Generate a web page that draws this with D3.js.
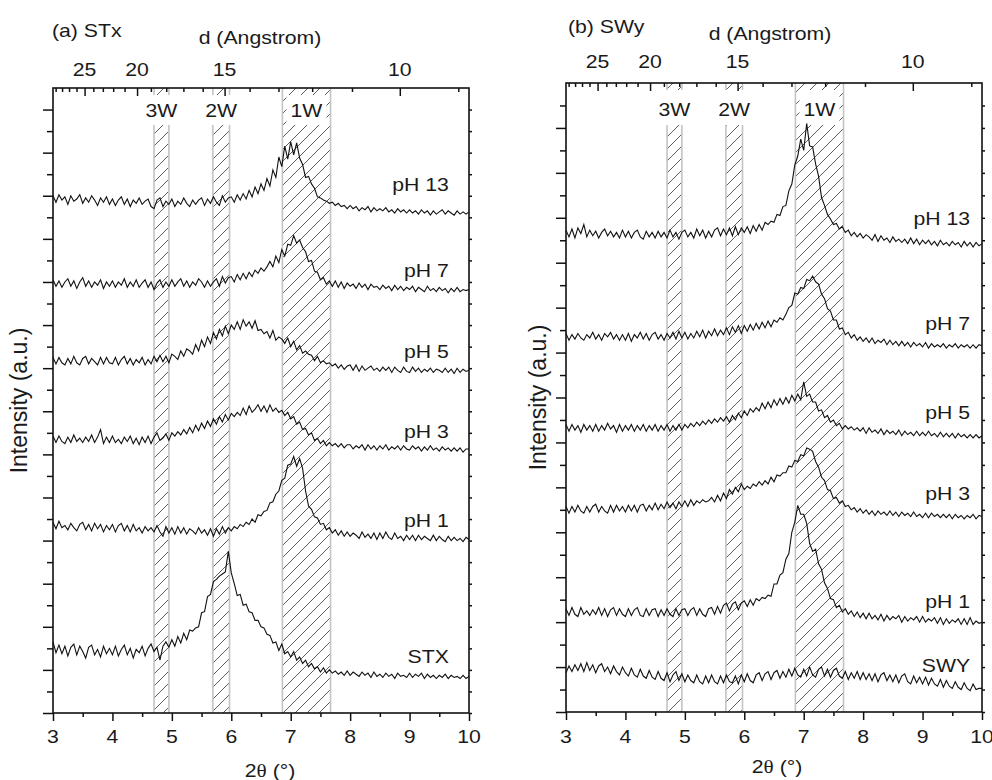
<!DOCTYPE html>
<html>
<head>
<meta charset="utf-8">
<script src="https://cdn.jsdelivr.net/npm/d3@7"></script>
<style>
  body { margin: 0; background: #fff; }
  text { font-family: "Liberation Sans", Arial, sans-serif; fill: #1a1a1a; }
</style>
</head>
<body>
<svg id="chart" width="992" height="780"></svg>
<script>
// scan grid, degrees 2theta
var angleStart = 3, angleStep = 0.05

// bottom / top axis ticks
var xTicks = [3, 4, 5, 6, 7, 8, 9, 10]
var xMinor = [3.5, 4.5, 5.5, 6.5, 7.5, 8.5, 9.5]
var dTicks = [25, 20, 15, 10]
var dMinor = [29, 28, 27, 26, 24, 23, 22, 21, 19, 18, 17, 16, 14, 13, 12, 11, 9]

// hydration state bands (2theta)
var bandNames = ["3W", "2W", "1W"]
var bandFrom = [4.70, 5.69, 6.86]
var bandTo = [4.95, 5.97, 7.67]

// (a) STx scans, intensity a.u. (stacked)
var stxNames = ["pH 13", "pH 7", "pH 5", "pH 3", "pH 1", "STX"]
var stxLabelLevels = [484, 405, 329, 255, 173, 46]

var stxPh13 = [
  480, 474, 481, 476, 479, 472, 480, 475, 477, 481, 473, 478, 474, 480, 476, 471, 478, 474, 479, 472,
  477, 471, 476, 479, 472, 477, 470, 476, 473, 478, 472, 475, 477, 470, 468, 476, 478, 470, 475, 472,
  477, 470, 475, 472, 478, 473, 470, 476, 472, 476, 478, 471, 477, 473, 479, 474, 471, 480, 474, 478,
  479, 474, 481, 476, 482, 477, 485, 479, 488, 482, 491, 485, 496, 489, 504, 497, 516, 507, 526, 514,
  530, 518, 529, 515, 509, 497, 498, 491, 487, 479, 478, 476, 475, 473, 474, 471, 473, 470, 471, 468,
  471, 468, 470, 466, 469, 467, 470, 465, 469, 466, 468, 466, 469, 465, 467, 464, 468, 465, 467, 464,
  467, 464, 466, 463, 467, 464, 466, 462, 466, 463, 465, 467, 463, 466, 464, 462, 466, 463, 465, 463,
  465]
var stxPh7 = [
  402, 396, 401, 395, 400, 403, 396, 401, 394, 400, 404, 396, 401, 395, 400, 397, 402, 394, 400, 396,
  401, 395, 400, 397, 403, 395, 400, 396, 402, 395, 399, 402, 395, 400, 393, 399, 402, 395, 400, 396,
  402, 396, 400, 403, 396, 401, 395, 400, 397, 403, 400, 395, 401, 396, 400, 403, 396, 405, 399, 404,
  405, 400, 407, 402, 408, 403, 409, 405, 411, 408, 413, 410, 414, 419, 414, 424, 418, 430, 424, 435,
  434, 443, 436, 439, 432, 428, 419, 420, 410, 409, 402, 404, 398, 401, 396, 401, 395, 400, 394, 399,
  396, 398, 394, 399, 395, 398, 393, 398, 395, 396, 393, 397, 394, 396, 392, 397, 393, 396, 392, 395,
  393, 396, 391, 395, 393, 391, 396, 392, 394, 391, 395, 392, 394, 390, 394, 391, 395, 391, 393, 392,
  393]
var stxPh5 = [
  330, 324, 330, 325, 323, 329, 324, 331, 325, 323, 329, 331, 324, 329, 326, 323, 330, 324, 330, 325,
  324, 330, 323, 328, 331, 324, 329, 323, 328, 325, 330, 323, 328, 324, 331, 326, 332, 326, 331, 325,
  333, 331, 328, 336, 331, 338, 336, 333, 342, 336, 346, 340, 349, 343, 353, 347, 356, 350, 359, 352,
  360, 356, 363, 356, 365, 359, 363, 357, 364, 355, 356, 352, 354, 348, 355, 346, 349, 347, 343, 348,
  340, 345, 337, 341, 334, 336, 333, 332, 327, 331, 325, 327, 324, 325, 322, 324, 320, 323, 319, 322,
  323, 318, 323, 317, 322, 318, 320, 322, 318, 320, 317, 321, 318, 321, 316, 321, 318, 316, 321, 317,
  316, 321, 317, 320, 316, 319, 317, 320, 316, 319, 318, 316, 320, 316, 319, 315, 320, 316, 319, 317,
  318]
var stxPh3 = [
  257, 251, 257, 252, 250, 256, 251, 258, 252, 255, 251, 256, 252, 258, 251, 256, 263, 250, 256, 251,
  257, 251, 254, 250, 256, 252, 257, 250, 255, 249, 256, 251, 257, 250, 256, 260, 253, 255, 259, 253,
  260, 257, 261, 258, 263, 259, 265, 260, 267, 262, 269, 264, 271, 266, 273, 268, 275, 270, 277, 272,
  278, 275, 279, 276, 283, 277, 285, 279, 282, 286, 280, 285, 279, 286, 280, 283, 279, 281, 276, 279,
  273, 275, 268, 270, 263, 264, 258, 260, 253, 255, 250, 253, 248, 251, 248, 250, 247, 250, 246, 249,
  249, 245, 248, 246, 249, 244, 249, 245, 248, 244, 248, 245, 249, 244, 247, 245, 248, 244, 248, 245,
  244, 248, 245, 247, 243, 247, 244, 248, 244, 246, 243, 247, 244, 246, 243, 246, 243, 246, 242, 245,
  245]
var stxPh1 = [
  177, 171, 178, 172, 174, 170, 176, 172, 169, 175, 177, 170, 175, 169, 176, 171, 175, 168, 174, 170,
  175, 168, 174, 176, 169, 174, 168, 175, 169, 172, 167, 173, 169, 172, 168, 174, 168, 164, 173, 167,
  172, 166, 173, 167, 172, 166, 171, 169, 166, 172, 167, 170, 165, 171, 164, 171, 166, 173, 167, 172,
  169, 173, 171, 175, 173, 177, 175, 180, 177, 184, 183, 187, 188, 195, 196, 203, 206, 216, 218, 230,
  231, 238, 229, 236, 227, 206, 192, 189, 182, 181, 175, 176, 170, 172, 167, 170, 165, 169, 164, 168,
  164, 167, 165, 162, 168, 163, 166, 162, 167, 161, 167, 162, 168, 163, 161, 167, 162, 164, 160, 165,
  161, 165, 160, 165, 161, 164, 162, 160, 165, 160, 164, 161, 159, 164, 160, 163, 160, 162, 159, 163,
  161]
var stxRaw = [
  66, 56, 63, 55, 62, 53, 61, 64, 54, 62, 57, 51, 61, 63, 54, 59, 52, 62, 55, 60,
  54, 62, 53, 59, 63, 54, 60, 51, 59, 56, 62, 53, 60, 64, 57, 61, 49, 62, 66, 61,
  68, 62, 71, 65, 74, 68, 77, 76, 79, 80, 93, 94, 108, 110, 122, 124, 127, 129, 131, 150,
  130, 120, 109, 110, 100, 101, 94, 93, 86, 86, 80, 79, 73, 72, 65, 66, 58, 64, 55, 57,
  52, 57, 49, 52, 46, 49, 43, 46, 41, 43, 38, 42, 37, 40, 37, 39, 36, 38, 35, 39,
  35, 38, 36, 34, 38, 35, 37, 33, 38, 34, 36, 33, 37, 34, 36, 32, 37, 34, 35, 33,
  37, 33, 36, 34, 37, 32, 36, 33, 35, 32, 35, 33, 36, 32, 35, 33, 34, 32, 35, 32,
  34]

// (b) SWy scans
var swyNames = ["pH 13", "pH 7", "pH 5", "pH 3", "pH 1", "SWY"]
var swyLabelLevels = [434, 340, 261, 189, 93, 36]

var swyPh13 = [
  429, 423, 430, 422, 431, 426, 434, 423, 429, 424, 428, 422, 427, 430, 424, 428, 423, 427, 422, 429,
  423, 428, 422, 427, 429, 423, 421, 428, 423, 427, 422, 428, 423, 427, 422, 429, 423, 427, 421, 427,
  429, 423, 427, 422, 430, 424, 429, 422, 428, 423, 429, 431, 424, 430, 425, 431, 424, 432, 425, 431,
  427, 432, 426, 433, 428, 434, 429, 436, 434, 437, 436, 443, 442, 450, 451, 464, 470, 487, 495, 510,
  500, 524, 504, 503, 488, 477, 458, 451, 443, 439, 434, 435, 430, 432, 427, 429, 424, 427, 423, 426,
  422, 425, 423, 420, 425, 419, 424, 420, 422, 418, 423, 419, 421, 418, 421, 417, 422, 417, 421, 416,
  420, 417, 420, 416, 419, 415, 420, 416, 418, 415, 419, 416, 418, 414, 419, 415, 418, 414, 418, 415,
  417]
var swyPh7 = [
  337, 331, 336, 332, 337, 333, 331, 336, 333, 338, 332, 336, 331, 337, 334, 338, 332, 336, 331, 336,
  331, 337, 330, 336, 333, 338, 332, 337, 331, 336, 338, 332, 336, 331, 337, 333, 338, 332, 339, 333,
  338, 332, 337, 333, 339, 334, 340, 333, 339, 335, 341, 335, 340, 336, 342, 336, 343, 338, 344, 337,
  344, 339, 345, 340, 346, 341, 347, 342, 348, 343, 349, 347, 351, 349, 354, 360, 362, 373, 372, 378,
  377, 385, 384, 388, 383, 381, 372, 368, 359, 357, 349, 349, 341, 342, 336, 338, 333, 336, 331, 334,
  330, 333, 329, 333, 328, 331, 329, 332, 327, 331, 327, 330, 326, 330, 326, 329, 325, 329, 326, 328,
  325, 329, 324, 328, 325, 327, 325, 328, 324, 327, 325, 328, 324, 327, 325, 327, 324, 327, 324, 327,
  326]
var swyPh5 = [
  256, 250, 256, 251, 255, 249, 256, 251, 255, 250, 256, 250, 255, 251, 257, 252, 255, 249, 256, 250,
  255, 251, 256, 250, 255, 251, 256, 250, 255, 251, 256, 250, 255, 251, 256, 250, 255, 251, 256, 251,
  256, 253, 257, 254, 258, 255, 259, 256, 260, 257, 261, 258, 262, 259, 263, 258, 264, 260, 266, 262,
  268, 264, 270, 267, 271, 268, 275, 270, 276, 271, 278, 273, 279, 274, 280, 275, 282, 277, 283, 278,
  294, 281, 283, 276, 276, 268, 269, 262, 264, 258, 260, 255, 257, 252, 255, 252, 254, 251, 253, 250,
  253, 248, 253, 249, 251, 248, 252, 247, 251, 248, 250, 247, 251, 246, 250, 247, 249, 246, 250, 246,
  249, 246, 250, 246, 248, 245, 249, 245, 248, 245, 248, 244, 248, 245, 247, 244, 247, 244, 247, 244,
  246]
var swyPh3 = [
  183, 177, 183, 178, 184, 179, 177, 183, 178, 183, 185, 178, 183, 179, 177, 184, 178, 184, 179, 183,
  178, 184, 179, 184, 178, 184, 185, 179, 184, 180, 186, 180, 185, 181, 187, 182, 186, 181, 187, 183,
  188, 183, 189, 184, 188, 186, 189, 187, 188, 191, 187, 193, 188, 195, 190, 198, 194, 200, 196, 203,
  198, 201, 199, 203, 201, 205, 202, 206, 203, 209, 205, 211, 210, 213, 213, 219, 218, 224, 223, 229,
  228, 235, 234, 232, 223, 218, 209, 206, 198, 197, 190, 191, 186, 188, 183, 184, 180, 182, 178, 181,
  177, 180, 176, 179, 175, 179, 176, 178, 175, 179, 175, 178, 174, 178, 175, 177, 174, 178, 174, 176,
  173, 177, 173, 177, 174, 176, 173, 176, 173, 176, 172, 176, 173, 175, 172, 175, 173, 176, 172, 175,
  174]
var swyPh1 = [
  92, 86, 93, 87, 85, 93, 87, 90, 86, 91, 87, 93, 86, 92, 85, 91, 93, 86, 92, 87,
  85, 92, 86, 91, 93, 86, 85, 92, 86, 91, 92, 85, 91, 86, 92, 87, 85, 92, 86, 91,
  92, 86, 91, 93, 86, 92, 87, 85, 92, 93, 87, 94, 88, 95, 97, 90, 96, 98, 91, 97,
  99, 94, 100, 95, 101, 99, 102, 101, 104, 103, 114, 114, 122, 124, 136, 141, 160, 169, 184, 176,
  176, 168, 150, 143, 145, 132, 127, 115, 110, 101, 100, 93, 95, 89, 92, 87, 90, 85, 89, 84,
  88, 83, 88, 83, 86, 82, 87, 81, 86, 82, 85, 83, 86, 80, 85, 81, 84, 82, 85, 80,
  85, 80, 83, 81, 84, 79, 84, 78, 83, 79, 82, 80, 83, 78, 83, 78, 84, 78, 81, 79,
  80]
var swyRaw = [
  35, 41, 36, 42, 37, 43, 36, 44, 37, 42, 35, 41, 43, 36, 40, 34, 41, 36, 33, 40,
  35, 32, 39, 33, 31, 38, 32, 30, 37, 31, 29, 36, 30, 28, 35, 27, 33, 36, 28, 34,
  27, 33, 28, 26, 33, 27, 25, 32, 26, 33, 27, 25, 32, 26, 33, 27, 26, 32, 25, 33,
  27, 34, 28, 26, 33, 35, 28, 34, 36, 29, 35, 37, 30, 36, 31, 38, 32, 39, 33, 31,
  38, 32, 40, 33, 31, 38, 40, 32, 38, 31, 37, 39, 32, 30, 36, 29, 35, 30, 36, 29,
  35, 29, 34, 28, 34, 27, 33, 35, 28, 33, 27, 33, 26, 32, 34, 27, 25, 32, 26, 31,
  25, 31, 24, 30, 25, 23, 29, 22, 28, 23, 21, 27, 22, 20, 26, 21, 19, 25, 20, 21,
  21]

// Cu K-alpha wavelength for the d-spacing axis
var lambda = 1.5406
function dToAngle(d) { return 2 * Math.asin(lambda / (2 * d)) * 180 / Math.PI }

var svg = d3.select("#chart")

// hatch pattern for the bands
var pat = svg.append("defs").append("pattern")
    .attr("id", "hatch")
    .attr("patternUnits", "userSpaceOnUse")
    .attr("width", 12)
    .attr("height", 12)
pat.append("path")
    .attr("d", "M-3,3 L3,-3 M0,12 L12,0 M9,15 L15,9")
    .attr("stroke", "#333")
    .attr("stroke-width", 0.8)

// text is slightly wide in the original, stretch it a bit
function label(g, x, y, str, anchor) {
    return g.append("text")
        .attr("transform", "translate(" + x + "," + y + ") scale(1.18,1)")
        .attr("text-anchor", anchor || "middle")
        .style("font-size", "18px")
        .text(str)
}

var panels = [
    { left: 53, right: 469, top: 88, bottom: 713, yMax: 580, boxTop: 95, bandLabelY: 117,
      scans: [stxPh13, stxPh7, stxPh5, stxPh3, stxPh1, stxRaw], names: stxNames, levels: stxLabelLevels,
      labelAngle: 9.66, tag: "(a) STx", tagX: 52, tagY: 37, dTitleX: 260, dTitleY: 44, dLabelY: 76,
      xLabelY: 743, xTitleX: 270, xTitleY: 777, yTitleX: 27 },
    { left: 566, right: 982, top: 83, bottom: 712, yMax: 560, boxTop: 90, bandLabelY: 116,
      scans: [swyPh13, swyPh7, swyPh5, swyPh3, swyPh1, swyRaw], names: swyNames, levels: swyLabelLevels,
      labelAngle: 9.80, tag: "(b) SWy", tagX: 568, tagY: 33, dTitleX: 770, dTitleY: 40, dLabelY: 68,
      xLabelY: 743, xTitleX: 777, xTitleY: 773, yTitleX: 546 }
]

panels.forEach(function (p) {

    var x = d3.scaleLinear().domain([3, 10]).range([p.left, p.right])
    var y = d3.scaleLinear().domain([0, p.yMax]).range([p.bottom, p.top])
    var g = svg.append("g")

    // Bands: hatch then light grey edges
    bandNames.forEach(function (name, i) {
        var x0 = x(bandFrom[i]), x1 = x(bandTo[i])
        g.append("rect")
            .attr("x", x0).attr("y", p.top)
            .attr("width", x1 - x0).attr("height", p.bottom - p.top)
            .attr("fill", "url(#hatch)")
        g.selectAll(null).data([x0, x1]).enter().append("line")
            .attr("x1", function (d) { return d }).attr("x2", function (d) { return d })
            .attr("y1", p.top).attr("y2", p.bottom)
            .attr("stroke", "#c4c4c4").attr("stroke-width", 1.6)
    })

    // white boxes behind band names
    bandNames.forEach(function (name, i) {
        var cx = (x(bandFrom[i]) + x(bandTo[i])) / 2
        var w = name == "1W" ? 40 : 36
        g.append("rect")
            .attr("x", cx - w / 2).attr("y", p.boxTop)
            .attr("width", w).attr("height", 125 - p.boxTop)
            .attr("fill", "#fff")
        label(g, cx, p.bandLabelY, name)
    })

    // the scans
    var line = d3.line()
        .x(function (d, i) { return x(angleStart + i * angleStep) })
        .y(function (d) { return y(d) })

    p.scans.forEach(function (scan, k) {
        g.append("path")
            .datum(scan)
            .attr("fill", "none")
            .attr("stroke", "#111")
            .attr("stroke-width", 1.1)
            .attr("d", line)
        label(g, x(p.labelAngle), y(p.levels[k]), p.names[k], "end")
    })

    // Axes (ticks only, labels drawn separately)
    var majorY = d3.range(0, p.yMax - 1, 40)
    var minorY = d3.range(20, p.yMax - 1, 40)

    g.append("g").attr("transform", "translate(0," + p.bottom + ")")
        .call(d3.axisBottom(x).tickValues(xTicks).tickSize(8).tickSizeOuter(0).tickFormat(""))
    g.append("g").attr("transform", "translate(0," + p.bottom + ")")
        .call(d3.axisBottom(x).tickValues(xMinor).tickSize(4).tickSizeOuter(0).tickFormat(""))
    g.append("g").attr("transform", "translate(0," + p.top + ")")
        .call(d3.axisTop(x).tickValues(dTicks.map(dToAngle)).tickSize(-8).tickSizeOuter(0).tickFormat(""))
    g.append("g").attr("transform", "translate(0," + p.top + ")")
        .call(d3.axisTop(x).tickValues(dMinor.map(dToAngle)).tickSize(-4).tickSizeOuter(0).tickFormat(""))
    g.append("g").attr("transform", "translate(" + p.left + ",0)")
        .call(d3.axisLeft(y).tickValues(majorY).tickSize(10).tickSizeOuter(0).tickFormat(""))
    g.append("g").attr("transform", "translate(" + p.left + ",0)")
        .call(d3.axisLeft(y).tickValues(minorY).tickSize(6).tickSizeOuter(0).tickFormat(""))
    g.append("g").attr("transform", "translate(" + p.right + ",0)")
        .call(d3.axisRight(y).tickValues(majorY.concat(minorY)).tickSize(3).tickSizeOuter(0).tickFormat(""))

    g.selectAll(".domain").remove()
    g.selectAll(".tick line").attr("stroke", "#111").attr("stroke-width", 1.5)

    // frame
    g.append("rect")
        .attr("x", p.left).attr("y", p.top)
        .attr("width", p.right - p.left).attr("height", p.bottom - p.top)
        .attr("fill", "none").attr("stroke", "#111").attr("stroke-width", 1.6)

    // tick labels
    xTicks.forEach(function (t) { label(g, x(t), p.xLabelY, t) })
    dTicks.forEach(function (d) { label(g, x(dToAngle(d)), p.dLabelY, d) })

    // titles
    label(g, p.tagX, p.tagY, p.tag, "start")
    label(g, p.dTitleX, p.dTitleY, "d (Angstrom)")

    var xt = label(g, p.xTitleX, p.xTitleY, "")
    xt.append("tspan").text("2")
    xt.append("tspan").style("font-family", "'Liberation Serif', serif").text("\u03B8")
    xt.append("tspan").text(" (\u00B0)")

    g.append("text")
        .attr("transform", "translate(" + p.yTitleX + "," + (p.top + p.bottom) / 2 + ") rotate(-90)")
        .attr("text-anchor", "middle")
        .style("font-size", "23px")
        .text("Intensity (a.u.)")
})
</script>
</body>
</html>
